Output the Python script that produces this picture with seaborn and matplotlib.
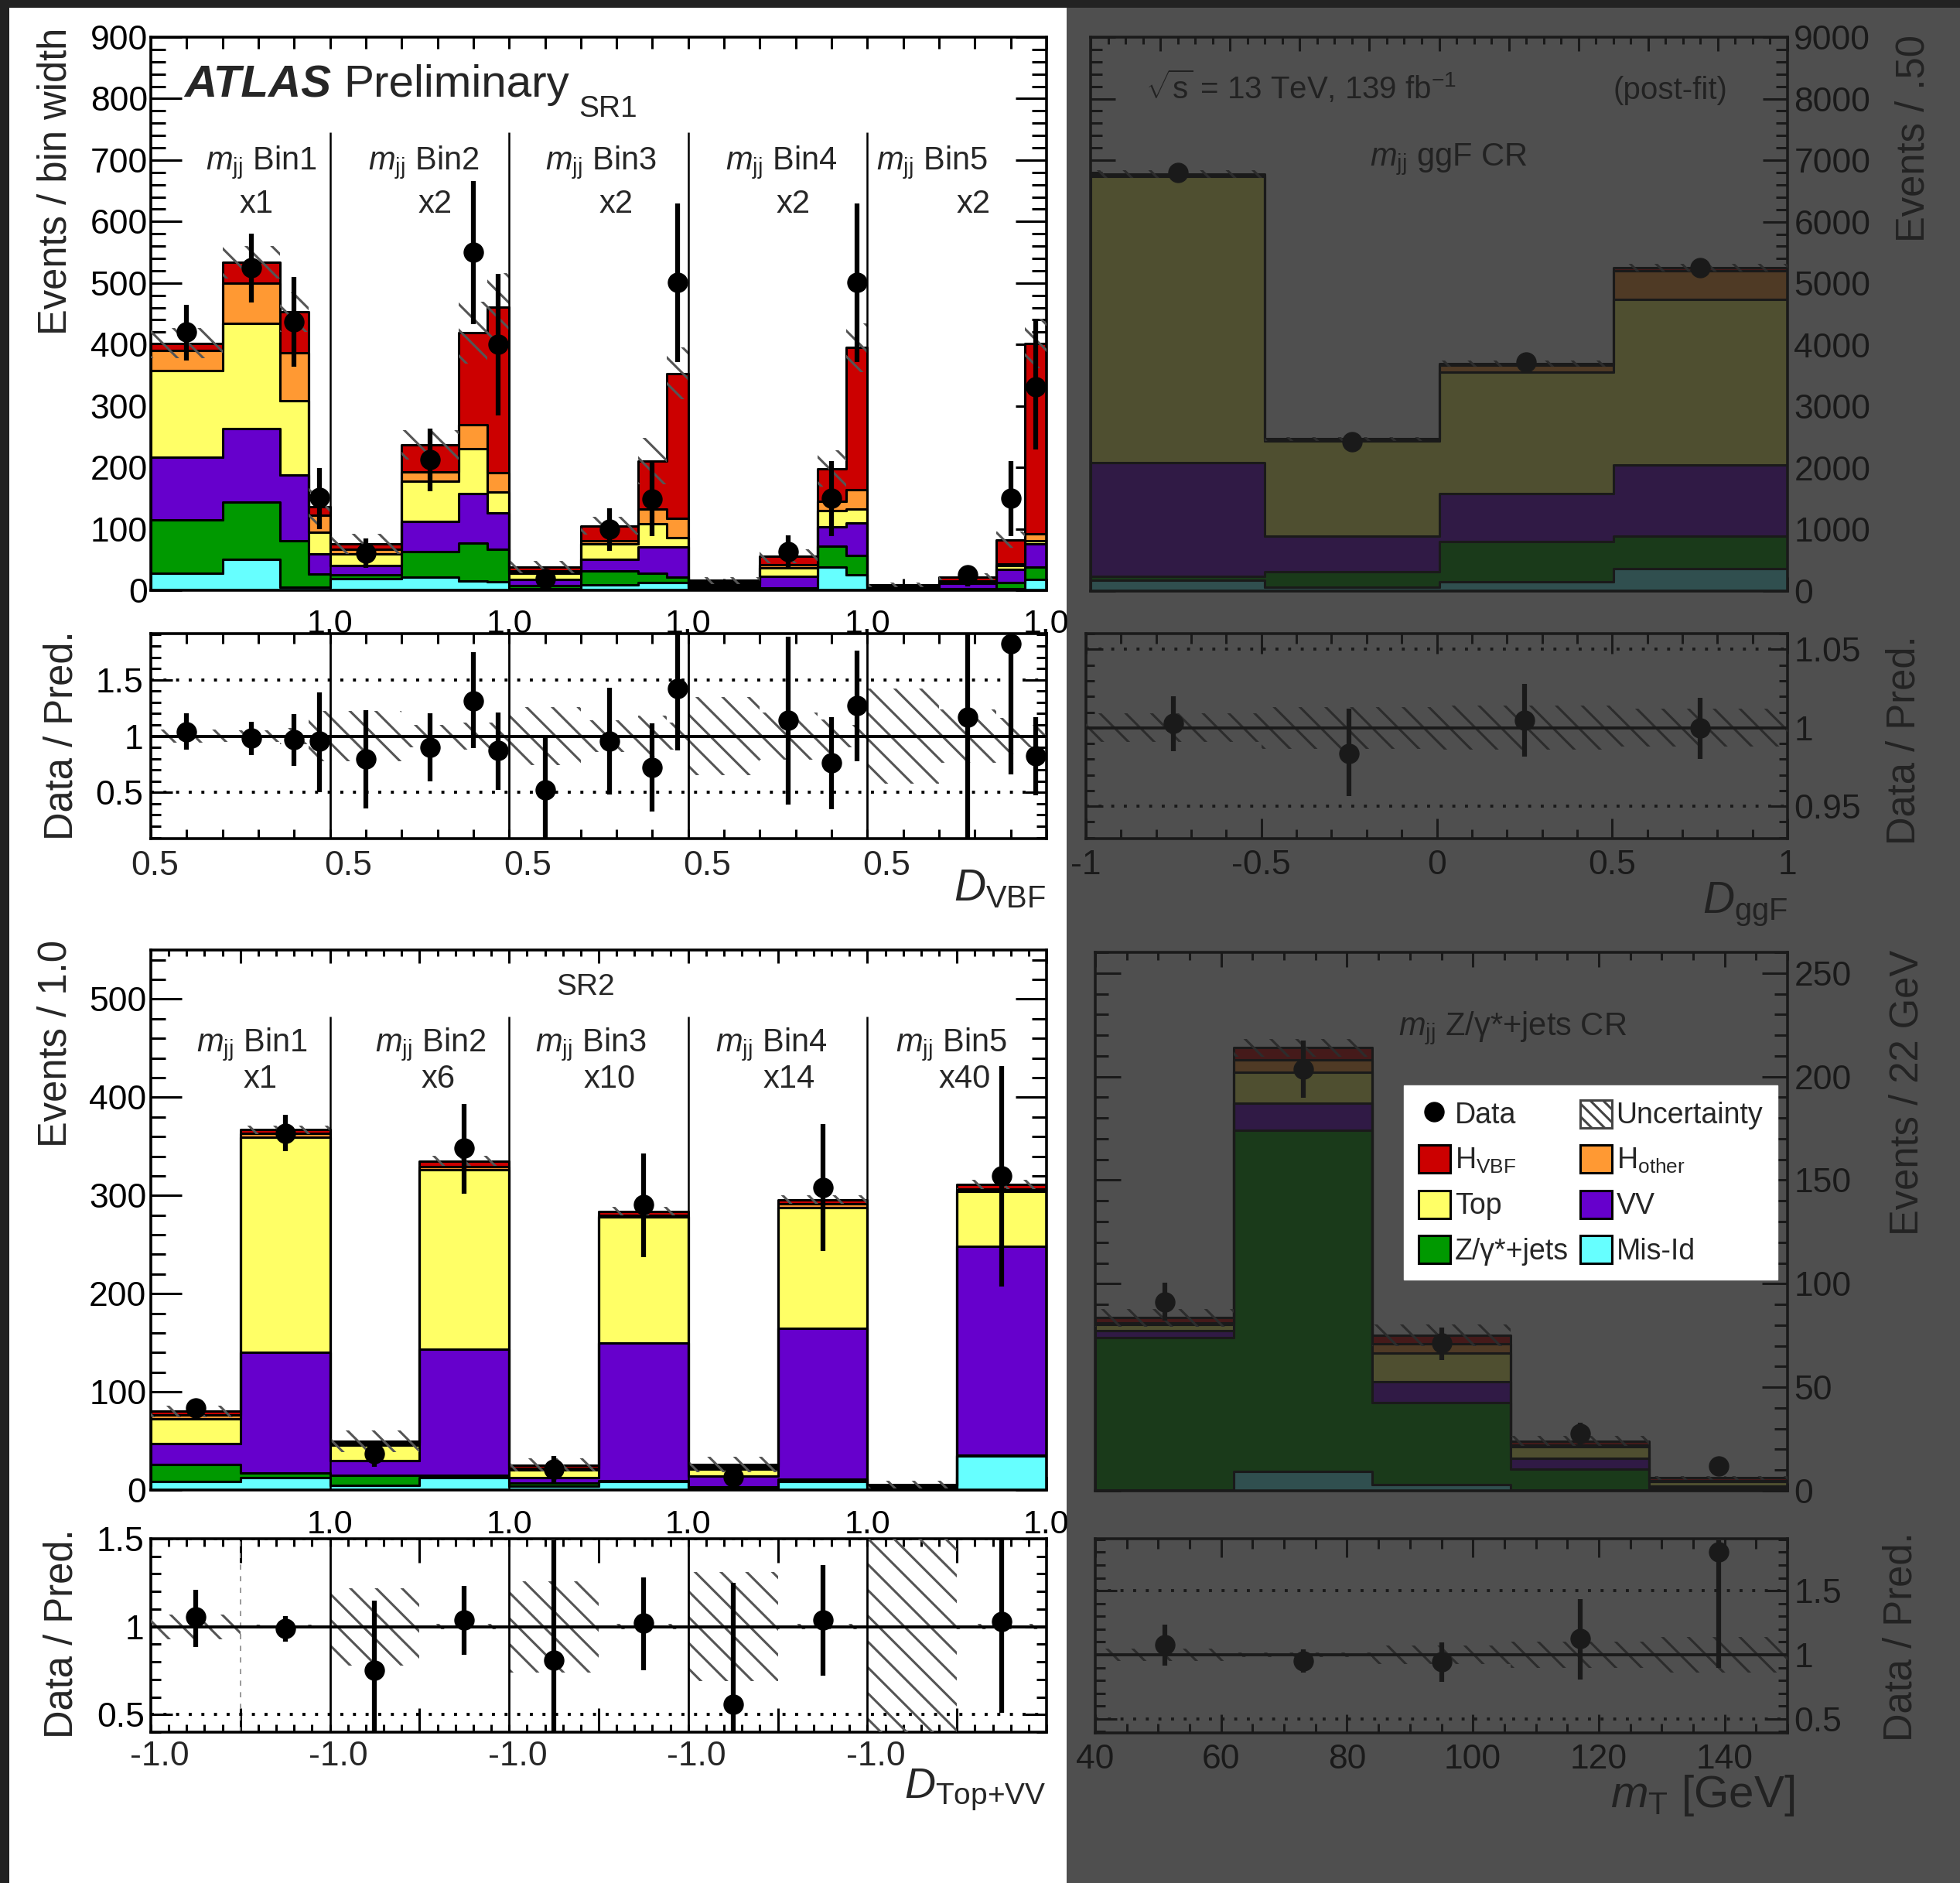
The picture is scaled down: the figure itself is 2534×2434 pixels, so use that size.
import numpy as np
import pandas as pd
import matplotlib
matplotlib.use("Agg")
import matplotlib.pyplot as plt
import matplotlib.transforms as mtransforms
import seaborn as sns
from matplotlib.patches import Rectangle, Patch
from matplotlib.lines import Line2D
from matplotlib.ticker import MultipleLocator, FixedLocator, FuncFormatter, NullFormatter

nan = np.nan

# ---------------------------------------------------------------- data
PROCESSES = ["H_VBF", "H_other", "Top", "VV", "Zjets", "MisId"]   # top -> bottom of the stack
COLORS = {"H_VBF": "#cc0000", "H_other": "#ff9933", "Top": "#ffff66",
          "VV": "#6600cc", "Zjets": "#009900", "MisId": "#66ffff"}
LABELS = {"H_VBF": r"H$_{\mathrm{VBF}}$", "H_other": r"H$_{\mathrm{other}}$", "Top": "Top",
          "VV": "VV", "Zjets": "Z/\u03b3*+jets", "MisId": "Mis-Id"}

# SR1 : 5 m_jj bins x 4 D_VBF bins
SR1_DVBF_EDGES = [0.5, 0.7, 0.86, 0.94, 1.0]
SR1_BIN_NAMES = ["Bin1", "Bin2", "Bin3", "Bin4", "Bin5"]
SR1_SCALES = ["x1", "x2", "x2", "x2", "x2"]
SR1_MISID = [27.5, 50.6, 4.5, 4.5, 19.2, 21, 15, 13.7, 3, 8.7, 12, 12, 1, 2, 38, 25.5, 1, 1, 3, 17]
SR1_ZJETS = [87.5, 92.4, 76.5, 22.2, 6.3, 42, 61.5, 53.3, 5, 23.1, 15.5, 9, 2, 2, 33.5, 31.5, 1, 2, 10, 21]
SR1_VV = [101, 120, 106, 32.3, 14.5, 49, 80.5, 59, 9, 18.8, 42.5, 49, 3, 18.5, 31.5, 52, 2, 8, 21, 38]
SR1_TOP = [141.5, 171.5, 122, 35.6, 19, 66, 73.6, 34, 10.5, 24.4, 38, 16, 3, 13.5, 27, 23, 2, 2, 6, 5]
SR1_HOTHER = [32.5, 65, 77, 27.1, 8.3, 15, 38.4, 31.7, 4.5, 5.8, 24, 31.6, 3, 5, 15, 31.7, 1, 2, 3, 11.5]
SR1_HVBF = [12, 34.5, 66.6, 14.7, 8.4, 44, 150, 269.3, 6, 24.2, 78, 235.4, 4, 14.6, 53, 231.3, 1.5, 7, 39, 309.5]
SR1_DATA = [420, 525, 437, 151, 61, 212.6, 550, 400, 19.2, 100, 149, 501, nan, 63, 150, 501, nan, 25.5, 150, 331]
SR1_DATA_HI = [465, 580, 510, 199, 84, 263, 666, 514.6, 34, 134, 210.6, 629, nan, 89.5, 210.6, 629, nan, 38, 210.6, 440]
SR1_DATA_LO = [374, 468, 364, 100, 36, 160.7, 433, 285, 4.5, 64.5, 88.3, 371, nan, 34.7, 88.3, 371, nan, 6.7, 88.3, 229]
SR1_RATIO = [1.039, 0.984, 0.97, 0.955, 0.794, 0.902, 1.314, 0.87, 0.526, 0.955, 0.725, 1.424,
             nan, 1.144, 0.76, 1.268, nan, 1.167, 1.824, 0.824]
SR1_RATIO_HI = [1.2, 1.13, 1.195, 1.39, 1.23, 1.2, 1.744, 1.21, 0.99, 1.43, 1.11, 1.95,
                nan, 1.88, 1.17, 1.756, nan, 1.95, 1.95, 1.17]
SR1_RATIO_LO = [0.88, 0.83, 0.737, 0.503, 0.36, 0.6, 0.893, 0.526, 0.05, 0.48, 0.33, 0.87,
                nan, 0.39, 0.35, 0.78, nan, 0.05, 0.66, 0.474]
SR1_UNC = [0.06, 0.05, 0.07, 0.22, 0.22, 0.10, 0.12, 0.12, 0.26, 0.14, 0.18, 0.12,
           0.35, 0.21, 0.15, 0.10, 0.42, 0.24, 0.16, 0.10]

# SR2 : 5 m_jj bins x 2 D_Top+VV bins
SR2_DTOP_EDGES = [-1.0, 0.0, 1.0]
SR2_SCALES = ["x1", "x6", "x10", "x14", "x40"]
SR2_MISID = [8.6, 12.5, 4.7, 12.5, 4, 9, 1.6, 9, 0.5, 34.5]
SR2_ZJETS = [17.4, 5.1, 10.3, 2.5, 2.7, 0.8, 1.5, 2, 0.5, 0.7]
SR2_VV = [21, 122.4, 15, 128.7, 5.8, 140.2, 11.4, 153.4, 1, 213.4]
SR2_TOP = [25.4, 219, 16, 182.3, 7.9, 128, 7, 123.4, 2.5, 55.4]
SR2_HOTHER = [4, 4, 2, 3, 1.9, 2, 2, 3.9, 0.5, 2.6]
SR2_HVBF = [3.6, 4, 2, 6, 3.2, 4, 2.5, 3.9, 0.5, 4.4]
SR2_DATA = [83.4, 363, 37, 348, 21.5, 290.5, 13.7, 308, nan, 320]
SR2_DATA_HI = [92, 382.5, 47, 393, 34.5, 343, 23.5, 372.7, nan, 431.5]
SR2_DATA_LO = [74, 345, 23.5, 302, 7.8, 237, 4, 243.5, nan, 207.5]
SR2_RATIO = [1.054, 0.99, 0.75, 1.037, 0.81, 1.02, 0.56, 1.037, nan, 1.03]
SR2_RATIO_HI = [1.21, 1.06, 1.15, 1.23, 1.49, 1.28, 1.25, 1.35, nan, 1.55]
SR2_RATIO_LO = [0.886, 0.915, 0.35, 0.84, 0.35, 0.75, 0.35, 0.72, nan, 0.51]
SR2_UNC = [0.07, 0.012, 0.22, 0.015, 0.26, 0.015, 0.31, 0.015, 0.65, 0.015]

# ggF CR
GGF_EDGES = [-1.0, -0.5, 0.0, 0.5, 1.0]
GGF_MISID = [173, 58, 154, 365]
GGF_ZJETS = [64, 262, 647, 532]
GGF_VV = [1846, 577, 782, 1154]
GGF_TOP = [4657, 1543, 1974, 2686]
GGF_HOTHER = [25, 18, 110, 468]
GGF_HVBF = [15, 12, 32, 45]
GGF_DATA = [6800, 2430, 3716, 5248]
GGF_RATIO = [1.003, 0.9835, 1.0046, 0.9997]
GGF_RATIO_HI = [1.020, 1.0124, 1.028, 1.019]
GGF_RATIO_LO = [0.9853, 0.9563, 0.9814, 0.980]
GGF_UNC = [0.0092, 0.0134, 0.014, 0.012]

# Z/gamma*+jets CR
ZCR_EDGES = [40, 62, 84, 106, 128, 150]
ZCR_MISID = [0.3, 9.3, 3, 0.4, 0.2]
ZCR_ZJETS = [73.7, 164.7, 39.5, 10.2, 1.1]
ZCR_VV = [3.4, 13, 10.2, 5, 0.9]
ZCR_TOP = [2.8, 15, 13.9, 5.6, 2.4]
ZCR_HOTHER = [0.8, 6, 4.3, 0.8, 0.4]
ZCR_HVBF = [2.5, 6, 4.3, 2, 1.2]
ZCR_DATA = [91, 203.6, 71.3, 27.7, 11.9]
ZCR_DATA_HI = [100.6, 217.5, 79, 33, 15.5]
ZCR_DATA_LO = [82, 189.7, 63, 22.5, 8.5]
ZCR_RATIO = [1.076, 0.952, 0.946, 1.127, 1.80]
ZCR_RATIO_HI = [1.237, 1.04, 1.097, 1.435, 1.89]
ZCR_RATIO_LO = [0.915, 0.86, 0.789, 0.809, 0.895]
ZCR_UNC = [0.05, 0.02, 0.07, 0.10, 0.14]

# ---------------------------------------------------------------- style
sns.set_theme(style="ticks")
plt.rcParams["font.family"] = ["Liberation Sans", "DejaVu Sans"]
plt.rcParams["mathtext.fontset"] = "custom"
plt.rcParams["mathtext.rm"] = "Liberation Sans"
plt.rcParams["mathtext.it"] = "Liberation Sans:italic"
plt.rcParams["mathtext.bf"] = "Liberation Sans:bold"
plt.rcParams["axes.unicode_minus"] = False
plt.rcParams["hatch.linewidth"] = 2.2

HATCH_COLOR = "#555555"
TICK_FS = 32
W, H = 2534, 2434
fig = plt.figure(figsize=(W / 100, H / 100), dpi=100)
fig.patch.set_facecolor("white")


def add_ax(l, t, r, b):
    return fig.add_axes([l / W, 1 - b / H, (r - l) / W, (b - t) / H])


def ftext(x, y, s, **kw):
    return fig.text(x / W, 1 - y / H, s, **kw)


def base_style(ax):
    for sp in ax.spines.values():
        sp.set_linewidth(2.6)
        sp.set_color("black")
    ax.set_facecolor("white")
    ax.grid(False)
    ax.tick_params(which="both", direction="in", top=True, right=True, bottom=True, left=True,
                   width=2.2, color="black", labelsize=TICK_FS, labelcolor="black")


def comp_dict(misid, zjets, vv, top, hother, hvbf):
    return {"MisId": misid, "Zjets": zjets, "VV": vv, "Top": top, "H_other": hother, "H_VBF": hvbf}


def draw_stack(ax, edges, comps):
    edges = [float(e) for e in edges]
    e = np.asarray(edges)
    centers = 0.5 * (e[:-1] + e[1:])
    frames = [pd.DataFrame({"x": centers, "w": np.asarray(comps[p], float), "proc": p}) for p in PROCESSES]
    df = pd.concat(frames, ignore_index=True)
    sns.histplot(data=df, x="x", weights="w", hue="proc", hue_order=PROCESSES, palette=COLORS,
                 multiple="stack", bins=edges, element="step", fill=True, alpha=1,
                 edgecolor="black", linewidth=2.2, legend=False, ax=ax)
    ax.set_xlabel("")
    ax.set_ylabel("")
    total = np.sum([np.asarray(comps[p], float) for p in PROCESSES], axis=0)
    return centers, total


def hatch_band(ax, edges, center_vals, rel):
    for i in range(len(center_vals)):
        lo = center_vals[i] * (1 - rel[i])
        hi = center_vals[i] * (1 + rel[i])
        ax.add_patch(Rectangle((edges[i], lo), edges[i + 1] - edges[i], hi - lo,
                               facecolor="none", edgecolor=HATCH_COLOR, hatch="\\",
                               linewidth=0, zorder=4))


def points(ax, x, y, hi=None, lo=None):
    x = np.asarray(x, float)
    y = np.asarray(y, float)
    m = ~np.isnan(y)
    if hi is not None:
        hi = np.asarray(hi, float)
        lo = np.asarray(lo, float)
        yerr = [y[m] - lo[m], hi[m] - y[m]]
    else:
        yerr = None
    ax.errorbar(x[m], y[m], yerr=yerr, fmt="o", color="black", ms=18, elinewidth=4.5,
                capsize=0, zorder=6)


def ratio_lines(ax, lo, hi):
    ax.axhline(1.0, color="black", lw=2.8, zorder=5)
    for v in (lo, hi):
        ax.axhline(v, color="black", lw=2.8, ls=(0, (1, 3.2)), zorder=3)


def global_edges(d_edges, n_sections, width, d0):
    out = []
    for i in range(n_sections):
        for d in d_edges:
            g = i * width + (d - d0)
            if not out or abs(out[-1] - g) > 1e-9:
                out.append(g)
    return out


gfmt = FuncFormatter(lambda v, p: "%g" % round(v, 4))

# ================================================================ SR1
sr1_edges = global_edges(SR1_DVBF_EDGES, 5, 0.5, 0.5)
ax1 = add_ax(195, 48, 1353, 763)
base_style(ax1)
c1, tot1 = draw_stack(ax1, sr1_edges, comp_dict(SR1_MISID, SR1_ZJETS, SR1_VV, SR1_TOP, SR1_HOTHER, SR1_HVBF))
hatch_band(ax1, sr1_edges, tot1, SR1_UNC)
points(ax1, c1, SR1_DATA, SR1_DATA_HI, SR1_DATA_LO)
ax1.vlines([0.5, 1.0, 1.5, 2.0], 0, 745, color="black", lw=1.8, zorder=5)
ax1.set_xlim(0, 2.5)
ax1.set_ylim(0, 900)
ax1.xaxis.set_major_locator(FixedLocator([0.5, 1.0, 1.5, 2.0, 2.5]))
ax1.xaxis.set_major_formatter(FuncFormatter(lambda v, p: "1.0"))
ax1.xaxis.set_minor_locator(MultipleLocator(0.1))
ax1.yaxis.set_major_locator(MultipleLocator(100))
ax1.yaxis.set_minor_locator(MultipleLocator(20))
ax1.tick_params(axis="x", which="both", length=11, pad=17, labelsize=31)
ax1.tick_params(axis="y", which="major", length=29, pad=3)
ax1.tick_params(axis="y", which="minor", length=14)

ax1r = add_ax(195, 819, 1353, 1084)
base_style(ax1r)
hatch_band(ax1r, sr1_edges, np.ones(len(c1)), SR1_UNC)
ratio_lines(ax1r, 0.5, 1.5)
points(ax1r, c1, SR1_RATIO, SR1_RATIO_HI, SR1_RATIO_LO)
for b in [0.5, 1.0, 1.5, 2.0]:
    ax1r.axvline(b, color="black", lw=2.0, zorder=5)
ax1r.set_xlim(0, 2.5)
ax1r.set_ylim(0.09, 1.91)
ax1r.xaxis.set_major_locator(FixedLocator([0, 0.5, 1.0, 1.5, 2.0, 2.5]))
ax1r.xaxis.set_major_formatter(NullFormatter())
ax1r.xaxis.set_minor_locator(MultipleLocator(0.1))
ax1r.yaxis.set_major_locator(MultipleLocator(0.5))
ax1r.yaxis.set_major_formatter(gfmt)
ax1r.yaxis.set_minor_locator(MultipleLocator(0.1))
ax1r.tick_params(axis="x", which="both", length=9)
ax1r.tick_params(axis="y", which="major", length=20, pad=7)
ax1r.tick_params(axis="y", which="minor", length=9.5)
for i, dx in enumerate([5, 24, 24, 24, 25]):
    tr = mtransforms.blended_transform_factory(ax1r.transData, ax1r.transAxes) + \
        mtransforms.ScaledTranslation(dx / 100, 0, fig.dpi_scale_trans)
    ax1r.text(0.5 * i, -0.055, "0.5", transform=tr, ha="center", va="top",
              fontsize=TICK_FS, clip_on=False)

# ================================================================ SR2
sr2_edges = global_edges(SR2_DTOP_EDGES, 5, 2.0, -1.0)
ax2 = add_ax(195, 1228, 1353, 1926)
base_style(ax2)
c2, tot2 = draw_stack(ax2, sr2_edges, comp_dict(SR2_MISID, SR2_ZJETS, SR2_VV, SR2_TOP, SR2_HOTHER, SR2_HVBF))
hatch_band(ax2, sr2_edges, tot2, SR2_UNC)
points(ax2, c2, SR2_DATA, SR2_DATA_HI, SR2_DATA_LO)
ax2.vlines([2, 4, 6, 8], 0, 482, color="black", lw=1.8, zorder=5)
ax2.set_xlim(0, 10)
ax2.set_ylim(0, 550)
ax2.xaxis.set_major_locator(FixedLocator(list(range(1, 11))))
ax2.xaxis.set_major_formatter(FuncFormatter(lambda v, p: "1.0" if int(round(v)) % 2 == 0 else ""))
ax2.xaxis.set_minor_locator(MultipleLocator(0.2))
ax2.yaxis.set_major_locator(MultipleLocator(100))
ax2.yaxis.set_minor_locator(MultipleLocator(20))
ax2.tick_params(axis="x", which="major", length=12, pad=18, labelsize=31)
ax2.tick_params(axis="x", which="minor", length=6)
ax2.tick_params(axis="y", which="major", length=29, pad=4)
ax2.tick_params(axis="y", which="minor", length=14)

ax2r = add_ax(195, 1989, 1353, 2239)
base_style(ax2r)
hatch_band(ax2r, sr2_edges, np.ones(len(c2)), SR2_UNC)
ratio_lines(ax2r, 0.5, 1.5)
points(ax2r, c2, SR2_RATIO, SR2_RATIO_HI, SR2_RATIO_LO)
for b in [2, 4, 6, 8]:
    ax2r.axvline(b, color="black", lw=2.0, zorder=5)
ax2r.axvline(1, color="#888888", lw=1.2, ls=(0, (4, 5)), zorder=2)
ax2r.set_xlim(0, 10)
ax2r.set_ylim(0.4, 1.5)
ax2r.xaxis.set_major_locator(FixedLocator([1, 3, 5, 7, 9]))
ax2r.xaxis.set_major_formatter(NullFormatter())
ax2r.xaxis.set_minor_locator(MultipleLocator(0.2))
ax2r.yaxis.set_major_locator(MultipleLocator(0.5))
ax2r.yaxis.set_major_formatter(gfmt)
ax2r.yaxis.set_minor_locator(MultipleLocator(0.1))
ax2r.tick_params(axis="x", which="major", length=22)
ax2r.tick_params(axis="x", which="minor", length=7.5)
ax2r.tick_params(axis="y", which="major", length=20, pad=6)
ax2r.tick_params(axis="y", which="minor", length=9.5)
for i in range(5):
    tr = mtransforms.blended_transform_factory(ax2r.transData, ax2r.transAxes) + \
        mtransforms.ScaledTranslation(11 / 100, 0, fig.dpi_scale_trans)
    ax2r.text(2.0 * i, -0.045, "-1.0", transform=tr, ha="center", va="top",
              fontsize=TICK_FS, clip_on=False)

# ================================================================ ggF CR
ax3 = add_ax(1410, 48, 2311, 764)
base_style(ax3)
c3, tot3 = draw_stack(ax3, GGF_EDGES, comp_dict(GGF_MISID, GGF_ZJETS, GGF_VV, GGF_TOP, GGF_HOTHER, GGF_HVBF))
hatch_band(ax3, GGF_EDGES, tot3, GGF_UNC)
points(ax3, c3, GGF_DATA)
ax3.set_xlim(-1, 1)
ax3.set_ylim(0, 9000)
ax3.xaxis.set_major_locator(MultipleLocator(0.2))
ax3.xaxis.set_minor_locator(MultipleLocator(0.05))
ax3.yaxis.set_major_locator(MultipleLocator(1000))
ax3.yaxis.set_minor_locator(MultipleLocator(200))
ax3.tick_params(axis="x", which="both", labelbottom=False)
ax3.tick_params(axis="x", which="major", length=13)
ax3.tick_params(axis="x", which="minor", length=6.5)
ax3.tick_params(axis="y", which="both", labelleft=False, labelright=True)
ax3.tick_params(axis="y", which="major", length=23, pad=6)
ax3.tick_params(axis="y", which="minor", length=11)

ax3r = add_ax(1404, 819, 2311, 1084)
base_style(ax3r)
hatch_band(ax3r, GGF_EDGES, np.ones(len(c3)), GGF_UNC)
ratio_lines(ax3r, 0.95, 1.05)
points(ax3r, c3, GGF_RATIO, GGF_RATIO_HI, GGF_RATIO_LO)
ax3r.set_xlim(-1, 1)
ax3r.set_ylim(0.9293, 1.0601)
ax3r.xaxis.set_major_locator(MultipleLocator(0.5))
ax3r.xaxis.set_major_formatter(gfmt)
ax3r.xaxis.set_minor_locator(MultipleLocator(0.1))
ax3r.yaxis.set_major_locator(MultipleLocator(0.05))
ax3r.yaxis.set_major_formatter(gfmt)
ax3r.yaxis.set_minor_locator(MultipleLocator(0.01))
ax3r.tick_params(axis="x", which="major", length=19, pad=10)
ax3r.tick_params(axis="x", which="minor", length=9)
ax3r.tick_params(axis="y", which="both", labelleft=False, labelright=True)
ax3r.tick_params(axis="y", which="major", length=16, pad=6)
ax3r.tick_params(axis="y", which="minor", length=8)

# ================================================================ Z CR
ax4 = add_ax(1416, 1231, 2311, 1927)
base_style(ax4)
c4, tot4 = draw_stack(ax4, ZCR_EDGES, comp_dict(ZCR_MISID, ZCR_ZJETS, ZCR_VV, ZCR_TOP, ZCR_HOTHER, ZCR_HVBF))
hatch_band(ax4, ZCR_EDGES, tot4, ZCR_UNC)
points(ax4, c4, ZCR_DATA, ZCR_DATA_HI, ZCR_DATA_LO)
ax4.set_xlim(40, 150)
ax4.set_ylim(0, 260)
ax4.xaxis.set_major_locator(MultipleLocator(20))
ax4.xaxis.set_minor_locator(MultipleLocator(5))
ax4.yaxis.set_major_locator(MultipleLocator(50))
ax4.yaxis.set_minor_locator(MultipleLocator(10))
ax4.tick_params(axis="x", which="both", labelbottom=False)
ax4.tick_params(axis="x", which="major", length=14)
ax4.tick_params(axis="x", which="minor", length=7)
ax4.tick_params(axis="y", which="both", labelleft=False, labelright=True)
ax4.tick_params(axis="y", which="major", length=24, pad=6)
ax4.tick_params(axis="y", which="minor", length=12)

ax4r = add_ax(1416, 1989, 2311, 2240)
base_style(ax4r)
hatch_band(ax4r, ZCR_EDGES, np.ones(len(c4)), ZCR_UNC)
ratio_lines(ax4r, 0.5, 1.5)
points(ax4r, c4, ZCR_RATIO, ZCR_RATIO_HI, ZCR_RATIO_LO)
ax4r.set_xlim(40, 150)
ax4r.set_ylim(0.39, 1.905)
ax4r.xaxis.set_major_locator(MultipleLocator(20))
ax4r.xaxis.set_major_formatter(gfmt)
ax4r.xaxis.set_minor_locator(MultipleLocator(5))
ax4r.yaxis.set_major_locator(MultipleLocator(0.5))
ax4r.yaxis.set_major_formatter(gfmt)
ax4r.yaxis.set_minor_locator(MultipleLocator(0.1))
ax4r.tick_params(axis="x", which="major", length=17, pad=10)
ax4r.tick_params(axis="x", which="minor", length=9)
ax4r.tick_params(axis="y", which="both", labelleft=False, labelright=True)
ax4r.tick_params(axis="y", which="major", length=20, pad=6)
ax4r.tick_params(axis="y", which="minor", length=9)

# ================================================================ texts
LAB_FS = 36.5
ftext(72, 36, "Events / bin width", rotation=90, ha="center", va="top", fontsize=LAB_FS)
ftext(80, 815, "Data / Pred.", rotation=90, ha="center", va="top", fontsize=LAB_FS)
ftext(72, 1215, "Events / 1.0", rotation=90, ha="center", va="top", fontsize=LAB_FS)
ftext(80, 1976, "Data / Pred.", rotation=90, ha="center", va="top", fontsize=LAB_FS)
ftext(2474, 45, "Events / .50", rotation=90, ha="center", va="top", fontsize=LAB_FS, zorder=2)
ftext(2462, 821, "Data / Pred.", rotation=90, ha="center", va="top", fontsize=LAB_FS, zorder=2)
ftext(2466, 1228, "Events / 22 GeV", rotation=90, ha="center", va="top", fontsize=LAB_FS, zorder=2)
ftext(2458, 1980, "Data / Pred.", rotation=90, ha="center", va="top", fontsize=LAB_FS, zorder=2)

ftext(1352, 1164, r"$D_{\mathrm{VBF}}$", ha="right", va="baseline", fontsize=41)
ftext(2311, 1180, r"$D_{\mathrm{ggF}}$", ha="right", va="baseline", fontsize=41, zorder=2)
ftext(1352, 2324, r"$D_{\mathrm{Top{+}VV}}$", ha="right", va="baseline", fontsize=40)
ftext(2320, 2336, r"$m_{\mathrm{T}}$ [GeV]", ha="right", va="baseline", fontsize=42, zorder=2)

ftext(238, 125, "ATLAS", fontsize=42, fontweight="bold", style="italic", va="baseline")
ftext(444, 125, "Preliminary", fontsize=42, va="baseline")
ftext(748, 151, "SR1", fontsize=28, va="baseline")
ftext(757, 1286, "SR2", fontsize=28, va="baseline", ha="center")

for name, sc, xb, xs in zip(SR1_BIN_NAMES, SR1_SCALES,
                            [338, 548, 777, 1010, 1205], [332, 563, 797, 1026, 1259]):
    ftext(xb, 219, r"$m_{\mathrm{jj}}$ " + name, fontsize=30, ha="center", va="baseline")
    ftext(xs, 275, sc, fontsize=30, ha="center", va="baseline")
for name, sc, xb, xs in zip(SR1_BIN_NAMES, SR2_SCALES,
                            [326, 557, 764, 997, 1230], [337, 567, 788, 1020, 1247]):
    ftext(xb, 1359, r"$m_{\mathrm{jj}}$ " + name, fontsize=30, ha="center", va="baseline")
    ftext(xs, 1406, sc, fontsize=30, ha="center", va="baseline")

ftext(1481, 128, r"$\sqrt{\mathrm{s}}$ = 13 TeV, 139 fb$^{-1}$", fontsize=29, va="baseline", zorder=2)
ftext(2086, 128, "(post-fit)", fontsize=29, va="baseline", zorder=2)
ftext(1771, 214, r"$m_{\mathrm{jj}}$ ggF CR", fontsize=30, va="baseline", zorder=2)
ftext(1808, 1338, r"$m_{\mathrm{jj}}$ Z/" + "\u03b3" + "*+jets CR", fontsize=30, va="baseline", zorder=2)

# ================================================================ overlay + frame
fig.add_artist(Rectangle((1379 / W, 0), 1 - 1379 / W, 1, transform=fig.transFigure,
                         facecolor="#222222", alpha=0.795, edgecolor="none", zorder=3))
fig.add_artist(Rectangle((0, 1 - 10 / H), 1, 10 / H, transform=fig.transFigure,
                         facecolor="#222222", edgecolor="none", zorder=7))
fig.add_artist(Rectangle((0, 0), 12 / W, 1, transform=fig.transFigure,
                         facecolor="#222222", edgecolor="none", zorder=7))

# ================================================================ legend
def proc_patch(p):
    return Patch(facecolor=COLORS[p], edgecolor="black", linewidth=2.2)


handles = [Line2D([], [], marker="o", ls="none", color="black", ms=18),
           proc_patch("H_VBF"), proc_patch("Top"), proc_patch("Zjets"),
           Patch(facecolor="white", edgecolor="#444444", hatch="\\\\", linewidth=2.2),
           proc_patch("H_other"), proc_patch("VV"), proc_patch("MisId")]
labels = ["Data", LABELS["H_VBF"], LABELS["Top"], LABELS["Zjets"],
          "Uncertainty", LABELS["H_other"], LABELS["VV"], LABELS["MisId"]]
leg = fig.legend(handles, labels, loc="upper left", bbox_to_anchor=(1815 / W, 1 - 1403 / H),
                 ncol=2, fontsize=27, frameon=True, fancybox=False, framealpha=1,
                 facecolor="white", edgecolor="white", borderpad=0.5, borderaxespad=0,
                 handlelength=1.1, handleheight=1.1, handletextpad=0.15,
                 labelspacing=0.52, columnspacing=0.4)
leg.set_zorder(6)

fig.savefig("out.png", dpi=100, facecolor="white")
